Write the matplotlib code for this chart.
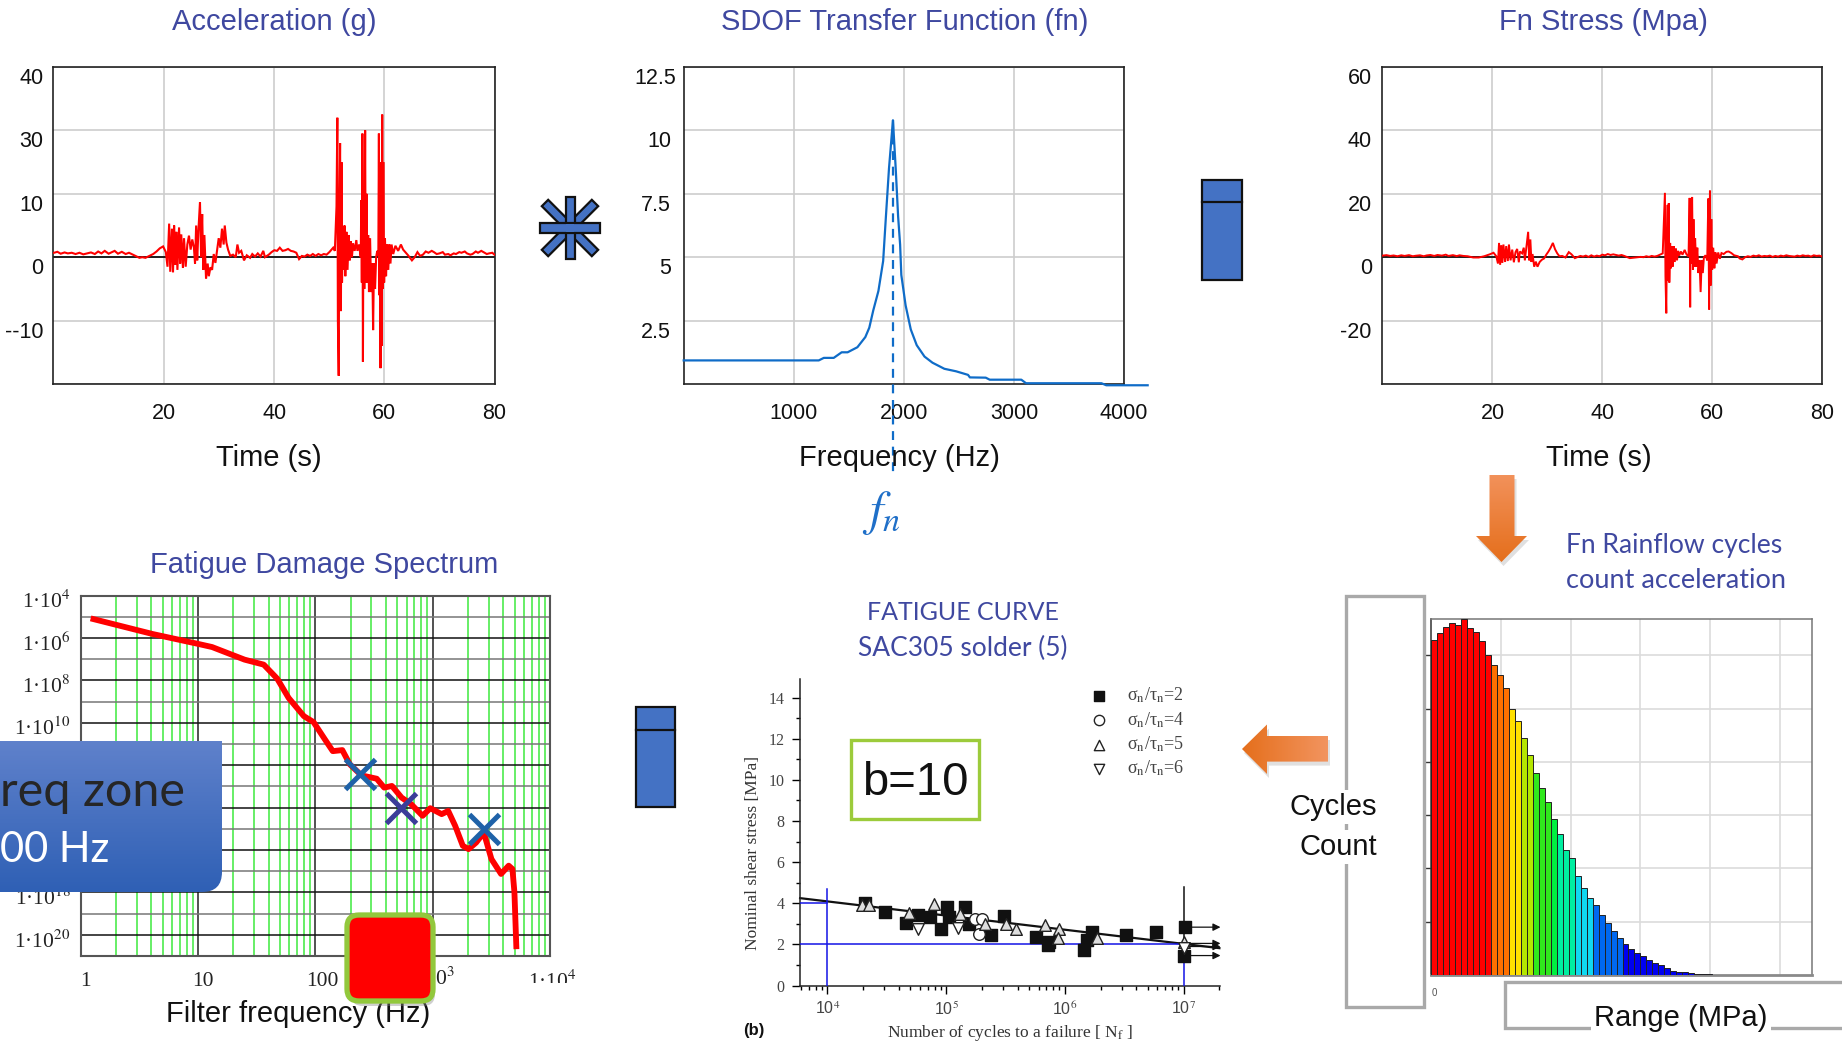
import numpy as np
import matplotlib
matplotlib.use("Agg")
import matplotlib.pyplot as plt
from matplotlib.path import Path
from matplotlib.patches import PathPatch, Rectangle, FancyBboxPatch, Polygon
from matplotlib.transforms import ScaledTranslation, Bbox
from matplotlib.colors import LinearSegmentedColormap

plt.rcParams['font.family'] = ['Liberation Sans', 'DejaVu Sans']
plt.rcParams['mathtext.fontset'] = 'stix'

W, H = 1842, 1043

# ---------- data: acceleration signal (time s, plotted level) ----------
acc_t = [0,0.6,1.2,1.9,2.5,3.2,3.9,4.6,5.3,6,6.7,7.4,8,8.6,9.2,9.9,10.5,11,11.6,12.3,13,13.6,14.2,15,15.5,16,16.6,17.2,18,18.6,19.2,19.8,20.3,
         20.6,20.9,21.1,21.4,21.6,21.8,22.0,22.2,22.4,22.7,22.9,23.1,23.4,23.6,23.9,24.2,24.5,24.8,25.1,25.4,25.6,25.8,26.0,26.2,26.5,26.7,26.9,27.1,27.3,27.6,27.9,28.1,28.4,28.7,29,29.3,29.6,29.9,30.2,30.5,30.8,31.0,31.3,31.6,32,32.5,33,33.3,33.6,34,34.5,35,35.6,36,36.5,37,37.5,38,38.3,39,39.5,40,40.5,41,41.5,42,42.5,43,43.5,44,44.5,45,45.5,46,46.5,47,47.5,48,48.5,49,49.5,50,50.7,
         51.0,51.3,51.45,51.55,51.7,51.8,51.95,52.1,52.2,52.3,52.45,52.6,52.75,52.9,53.1,53.3,53.5,53.7,53.9,54.1,54.3,54.6,54.9,55.1,55.4,55.7,55.8,55.9,56.0,56.1,56.2,56.35,56.5,56.6,56.75,56.9,57.05,57.2,57.4,57.6,57.8,57.95,58.1,58.3,58.5,58.7,58.9,59.0,59.1,59.2,59.3,59.4,59.5,59.6,59.7,59.8,59.95,60.1,60.3,60.5,60.7,60.9,61.1,61.3,61.6,62,62.5,63,63.4,63.8,64.3,65,65.5,66,66.5,67,67.5,68,68.6,69,69.5,70,70.6,71,71.6,72,72.6,73,73.6,74,74.6,75,75.6,76,76.6,77,77.6,78,78.6,79,79.6,80]
acc_y = [0.7,0.85,0.55,0.75,0.6,0.7,0.5,0.7,0.45,0.6,0.75,0.5,0.9,0.6,1.0,0.55,0.8,1.0,0.55,0.85,0.5,0.7,0.45,0.1,-0.1,0,-0.1,0.15,0.5,0.9,1.4,1.7,0.8,
         -1.5,5.3,-2.3,4.5,-2.4,5.0,-1.2,4.0,-2,4.7,-1,3.6,-1.7,3,-1.5,2,3.4,1.2,2.8,1.5,-1,5,-0.5,4,8.7,0,6.8,-2,3.5,-3.4,-1,-3,-1.6,-2,0.5,-0.9,1,3,1.5,4.5,2,5,2.3,1.2,0.2,0.4,0,2,0.7,1,-0.5,0.3,-0.1,0.5,0.1,0.6,0.1,1,0,0.4,0.8,1.1,1.0,1.5,1.0,1.1,1.3,1.0,0.9,0.7,-0.3,0.2,0.1,0.4,0.2,0.5,0.2,0.5,0.3,0.5,0.4,0.8,1.5,
         1.0,8,22,-10,-18.7,5,18,-8.5,15,-4,3,-2,5,-3,4,-2,3.5,-0.5,2.5,0,2.2,1,2.7,1,2,0,9,-4,19.5,-16.5,10,-5,20,-4,10,-4,3.5,-5.5,3,-5.5,-1,-11.5,-1,-5,0,1,0.3,19.5,-6,8,-17.5,15,-14,22.5,-5,15,-4,3,-3,2,-2,2,-1,2,0.5,1.8,1,2,1.2,0.8,0.3,-0.5,0,0.8,0.2,0.4,0.9,0.7,1.0,0.8,0.5,0.6,0.8,0.4,0.5,0.3,0.6,0.5,0.8,0.7,0.9,0.6,0.4,0.5,0.9,0.7,1.0,0.8,0.5,0.6,0.7,0.4]
acc_yticks = [-20,-10,0,10,20,30]
acc_ylabels = ['', '--10', '0', '10', '30', '40']
time_ticks = [20,40,60,80]

# ---------- data: SDOF transfer function ----------
sdof_f = [0,1227,1273,1363,1435,1489,1578,1650,1686,1722,1769,1812,1837,1865,1901,1926,1948,1966,1977,2016,2063,2117,2188,2260,2368,2475,2583,2600,2744,2780,3067,3110,3795,3839,4215]
sdof_h = [0.93,0.93,1.03,1.03,1.25,1.25,1.45,1.85,2.22,2.9,3.67,4.85,6.6,8.5,10.4,8.5,6.6,5.5,4.3,3.1,2.15,1.53,1.08,0.84,0.6,0.5,0.36,0.26,0.25,0.17,0.17,0.03,0.03,-0.05,-0.05]
sdof_fn = 1901
sdof_yticks = [2.5,5,7.5,10,12.5]
sdof_ylabels = ['2.5','5','7.5','10','12.5']
freq_ticks = [1000,2000,3000,4000]

# ---------- data: Fn stress ----------
st_t = [0,0.7,1.4,2,2.7,3.4,4,4.8,5.5,6,6.8,7.5,8,8.7,9.4,10,10.8,11.5,12,12.8,13.5,14,14.7,15.5,16.5,17.5,18.5,19.5,20.2,20.7,21,21.2,21.4,21.6,21.8,22,22.3,22.5,22.8,23,23.3,23.6,23.9,24.2,24.5,24.8,25,25.4,25.7,25.9,26.2,26.5,26.7,26.9,27.1,27.3,27.6,27.9,28.2,28.6,29,29.4,29.8,30.2,30.6,31,31.4,31.8,32.2,32.7,33.3,33.9,34.4,35,35.6,36,36.5,37,37.5,38,38.5,39,39.5,40,40.5,41,41.5,42,42.5,43,43.5,44,45,46,47,47.5,48,48.5,49,49.5,50,51,
        51.4,51.5,51.65,51.75,51.9,52.0,52.1,52.2,52.35,52.5,52.65,52.8,53,53.2,53.4,53.6,53.8,54,54.3,54.6,55,55.3,55.7,55.9,56,56.1,56.2,56.35,56.5,56.6,56.75,56.9,57.1,57.3,57.5,57.7,57.9,58.1,58.3,58.5,58.8,59.1,59.3,59.45,59.6,59.7,59.85,60,60.2,60.4,60.6,60.8,61.1,61.4,61.7,62.1,62.6,63,63.5,64,64.7,65,65.5,66,66.5,67,67.5,68,68.5,69,69.5,70,70.5,71,71.5,72,72.5,73,73.5,74,74.5,75,75.5,76,76.5,77,77.5,78,78.5,79,79.5,80]
st_y = [0.5,0.65,0.4,0.55,0.3,0.6,0.4,0.65,0.3,0.45,0.6,0.3,0.55,0.7,0.4,0.7,0.5,0.8,0.4,0.65,0.35,0.6,0.4,0.3,-0.1,-0.1,0.3,0.9,1.4,0.3,-2,4.5,-2.4,3.8,-1.8,4,-1.5,3.5,-1.2,4,-1,2.4,-1.6,1.6,2.6,-1.6,1.8,1.2,3,-1,3.6,8,-1,5.6,-1.5,1,-3,-1.4,-3,-1.5,-0.8,-0.4,0.8,1.8,3,4.5,2.5,1.2,0.3,0.4,-0.1,1.6,0.9,-0.3,0.1,0.4,0.2,0.5,0.1,0.6,0.2,0.5,0.3,0.8,0.6,1,0.7,0.9,0.7,0.5,0.7,0.4,-0.3,-0.1,0.1,0,0.3,0.1,0.4,0.2,0.4,1.2,
        20.3,-6,-17.7,2,16.5,-7.5,17,-8,4.5,-3.5,3.5,-3,3.5,-1.5,2.8,-1,2,0.5,1.8,0.8,2.3,1,0.2,18.7,-15.8,18,-2,19,-4,12,-3,6,-3,3,-5,-1,-11,-1,-5,0,0.6,-1,18.5,-16.5,21,-9,12,-4,3,-3.5,1.5,-2,1.5,-0.5,1.3,1,1.7,1.8,1.3,0.6,0.3,-0.4,-0.7,0,0.3,0.1,0.5,0.3,0.6,0.2,0.4,0.3,0.5,0.1,0.4,0.2,0.5,0.3,0.6,0.4,0.3,0.2,0.5,0.3,0.6,0.4,0.5,0.2,0.6,0.4,0.5,0.2]
st_yticks = [-40,-20,0,20,40,60]
st_ylabels = ['', '-20', '0', '20', '40', '60']

# ---------- data: fatigue damage spectrum ----------
fds_f = [1.29,4.13,9.87,13.2,25,36.4,47.4,59.3,80,96.7,121,141,170,197,247,334,387,450,544,656,821,955,1194,1358,1556,1807,2023,2349,2729,3170,3828,4446,4786,4977,5164]
fds_exp = [-5.113,-5.818,-6.273,-6.43,-7.025,-7.26,-7.92,-8.83,-9.69,-9.97,-10.79,-11.34,-11.29,-11.96,-12.48,-12.64,-13.06,-12.98,-13.53,-13.84,-14.39,-14.03,-14.31,-14.16,-14.86,-15.80,-15.96,-15.65,-15.18,-16.43,-17.13,-16.74,-16.90,-18.0,-20.54]
fds_dmg = [10.0**e for e in fds_exp]
cross_f = [242, 535, 2749]
cross_dmg = [10.0**-12.43, 10.0**-14.0, 10.0**-15.02]
cross_col = ['#1f62a8', '#3b3d99', '#1f62a8']
fds_label_exp = [4,6,8,10,12,14,16,18,20]

# ---------- data: S-N fatigue curve ----------
sq_n = [2.07e4,3.08e4,4.64e4,5.8e4,7.35e4,9.1e4,1.01e5,1.05e5,1.44e5,1.56e5,2.37e5,3.1e5,5.7e5,7.17e5,7.3e5,1.46e6,1.55e6,1.70e6,3.3e6,5.9e6,1.02e7,1.0e7]
sq_s = [4.03,3.57,3.04,3.44,3.33,2.76,3.81,3.33,3.81,3.0,2.47,3.36,2.35,1.95,2.14,1.74,2.22,2.6,2.48,2.6,2.84,1.46]
ci_n = [1.75e5,2.02e5,1.9e5]
ci_s = [3.25,3.25,2.52]
up_n = [1.95e4,2.24e4,4.87e4,7.9e4,1.31e5,2.14e5,3.18e5,3.87e5,6.84e5,8.87e5,8.67e5,1.88e6,1.0e7]
up_s = [3.94,3.93,3.54,3.98,3.49,3.0,3.0,2.73,2.95,2.73,2.32,2.32,2.11]
dn_n = [5.8e4,1.26e5,1.0e7]
dn_s = [2.76,2.79,1.82]
fit_n = [5.9e3, 2.0e7]
fit_s = [4.25, 1.82]
runout_s = [2.84, 2.05, 1.9, 1.46]

# ---------- data: rainflow histogram ----------
rf_counts = [6.29,6.42,6.53,6.60,6.56,6.68,6.51,6.43,6.26,6.01,5.82,5.62,5.39,4.99,4.76,4.44,4.12,3.79,3.51,3.25,2.92,2.65,2.34,2.20,1.86,1.64,1.44,1.31,1.12,0.97,0.82,0.69,0.58,0.48,0.41,0.35,0.29,0.23,0.18,0.13,0.08,0.065,0.05,0.04,0.026,0.02,0.013,0.006,0.006]
rf_colors = ['#ff0000']*10 + ['#ff7000']*3 + ['#ffe000']*2 + ['#b4e600']*2 + ['#30e81c']*3 + \
            ['#00f040'] + ['#00eea0']*3 + ['#10d8f0']*3 + ['#0068f0']*5 + ['#0000f0']*17
rf_bin = 0.0857

TITLE = '#3f48a0'
fig = plt.figure(figsize=(W/100, H/100), dpi=100, facecolor='white')


def px_axes(l, t, r, b, **kw):
    return fig.add_axes([l/W, 1-b/H, (r-l)/W, (b-t)/H], **kw)


def shift(label, dx=0, dy=0):
    label.set_transform(label.get_transform() + ScaledTranslation(dx/100, -dy/100, fig.dpi_scale_trans))


def base_panel(ax, xticks, yticks, ylabels, ypad=7):
    ax.set_xticks(xticks)
    ax.set_yticks(yticks)
    ax.set_yticklabels(ylabels)
    ax.grid(True, color='#cdcdcd', lw=1.2)
    ax.set_axisbelow(True)
    ax.tick_params(axis='both', which='both', length=0, labelsize=15.5, labelcolor='#111111')
    ax.tick_params(axis='x', pad=14)
    ax.tick_params(axis='y', pad=ypad)
    for lb in ax.get_yticklabels():
        shift(lb, dy=9)
    for s in ax.spines.values():
        s.set_color('#222222')
        s.set_linewidth(1.2)


# panel 1
ax1 = px_axes(53, 67, 494.5, 384)
ax1.set_xlim(-0.2, 80); ax1.set_ylim(-20, 30)
base_panel(ax1, time_ticks, acc_yticks, acc_ylabels)
ax1.axhline(0, color='black', lw=1.2, zorder=2)
ax1.plot(acc_t, acc_y, color='#ff0000', lw=1.5, zorder=3, solid_joinstyle='miter')

# panel 2
ax2 = px_axes(683.7, 67, 1124, 384)
ax2.set_xlim(0, 4000); ax2.set_ylim(0, 12.5)
base_panel(ax2, freq_ticks, sdof_yticks, sdof_ylabels, ypad=9)
shift(ax2.get_yticklabels()[-1], dx=5)
ax2.plot(sdof_f, sdof_h, color='#0f6cc8', lw=1.6, clip_on=False, zorder=3)
ax2.plot([sdof_fn, sdof_fn], [max(sdof_h), -3.63], color='#0f6cc8', lw=1.6, ls=(0, (4, 3)), clip_on=False, zorder=4)

# panel 3
ax3 = px_axes(1381.5, 67, 1822, 384)
ax3.set_xlim(-0.2, 80); ax3.set_ylim(-40, 60)
base_panel(ax3, time_ticks, st_yticks, st_ylabels)
ax3.axhline(0, color='black', lw=1.2, zorder=2)
ax3.plot(st_t, st_y, color='#ff0000', lw=1.4, zorder=3, solid_joinstyle='miter')

# panel 4: fatigue damage spectrum
ax4 = px_axes(80.5, 595.5, 550, 956)
ax4.set_xscale('log'); ax4.set_yscale('log')
ax4.set_xlim(1, 1e4); ax4.set_ylim(1e-21, 1e-4)
for d in [1, 10, 100, 1000]:
    for m in range(2, 10):
        ax4.axvline(d*m, color='#66ee66', lw=1.4, zorder=1)
for d in [10, 100, 1000]:
    ax4.axvline(d, color='#333333', lw=1.2, zorder=2)
for e in range(-20, -4):
    ax4.axhline(10.0**e, color='#111111' if e % 2 == 0 else '#777777', lw=1.1, zorder=2)
ax4.set_xticks([]); ax4.set_xticks([], minor=True)
ax4.set_yticks([10.0**-e for e in fds_label_exp])
ax4.set_yticklabels(['1·10$^{%d}$' % e for e in fds_label_exp], family='Liberation Serif', fontsize=15.5, color='#222222')
ax4.set_yticks([], minor=True)
ax4.tick_params(axis='y', which='both', length=0, pad=7)
for lb in ax4.get_yticklabels():
    shift(lb, dy=4)
for s in ax4.spines.values():
    s.set_color('#555555'); s.set_linewidth(1.5)
ax4.plot(fds_f, fds_dmg, color='#ff0000', lw=4.2, zorder=5, solid_joinstyle='round')
for f, d, c in zip(cross_f, cross_dmg, cross_col):
    ax4.plot([f], [d], marker='x', ms=21, mew=3.6, color=c, zorder=6)

# panel 5: S-N curve
ax5 = px_axes(800, 679, 1220, 985.6)
ax5.set_xscale('log')
ax5.set_xlim(10**3.77, 10**7.306); ax5.set_ylim(0, 14.9)
for s in ['top', 'right']:
    ax5.spines[s].set_visible(False)
for s in ['left', 'bottom']:
    ax5.spines[s].set_color('#222222'); ax5.spines[s].set_linewidth(1.1)
ax5.set_yticks(range(0, 15, 2)); ax5.set_yticks(range(1, 15, 2), minor=True)
ax5.set_xticks([1e4, 1e5, 1e6, 1e7])
ax5.set_xticklabels(['10$^{4}$', '10$^{5}$', '10$^{6}$', '10$^{7}$'])
ax5.tick_params(axis='both', which='major', length=6, width=1, labelsize=11.5, labelcolor='#444444', pad=5)
ax5.tick_params(axis='both', which='minor', length=3, width=1)
for lb in ax5.get_yticklabels():
    lb.set_family('Liberation Serif')
ax5.plot(fit_n, fit_s, color='#111111', lw=1.6, zorder=2, clip_on=False)
blue = '#1414e6'
ax5.plot([1e4, 1e4], [0, 4.7], color=blue, lw=1.1, zorder=3)
ax5.plot([10**3.77, 1e4], [4, 4], color=blue, lw=1.1, zorder=3)
ax5.plot([10**3.77, 1e7], [2, 2], color=blue, lw=1.1, zorder=3)
ax5.plot([1e7, 1e7], [0, 2], color=blue, lw=1.1, zorder=3)
ax5.plot([1e7, 1e7], [2, 4.8], color='#111111', lw=1.1, zorder=3)
for s in runout_s:
    ax5.annotate('', xy=(10**7.31, s), xytext=(1e7, s),
                 arrowprops=dict(arrowstyle='-|>', color='#111111', lw=0.9, mutation_scale=11, shrinkA=0, shrinkB=0),
                 annotation_clip=False)
h1 = ax5.scatter(sq_n, sq_s, marker='s', s=70, color='#111111', zorder=4, label='σ$_{\\mathrm{n}}$/τ$_{\\mathrm{n}}$=2')
h2 = ax5.scatter(ci_n, ci_s, marker='o', s=70, facecolor='white', edgecolor='#222222', lw=1, zorder=5, label='σ$_{\\mathrm{n}}$/τ$_{\\mathrm{n}}$=4')
h3 = ax5.scatter(up_n, up_s, marker='^', s=70, facecolor='#dddddd', edgecolor='#222222', lw=1, zorder=5, label='σ$_{\\mathrm{n}}$/τ$_{\\mathrm{n}}$=5')
h4 = ax5.scatter(dn_n, dn_s, marker='v', s=70, facecolor='white', edgecolor='#222222', lw=1, zorder=5, label='σ$_{\\mathrm{n}}$/τ$_{\\mathrm{n}}$=6')
lg = ax5.legend(handles=[h1, h2, h3, h4], loc='upper right', bbox_to_anchor=(0.925, 0.99), frameon=False,
                prop={'family': 'Liberation Serif', 'size': 13}, labelspacing=0.28, handletextpad=0.55,
                borderpad=0.2, borderaxespad=0)
for t in lg.get_texts():
    t.set_color('#444444')
for h in lg.legend_handles:
    h.set_facecolor('white' if h is not lg.legend_handles[0] else '#111111')
    h.set_sizes([55])
ax5.set_xlabel('Number of cycles to a failure [ N$_{\\mathrm{f}}$ ]', family='Liberation Serif', fontsize=12.5, color='#333333', labelpad=3)
ax5.set_ylabel('Nominal shear stress [MPa]', family='Liberation Serif', fontsize=12.5, color='#333333')
ax5.yaxis.set_label_coords(-0.092, 0.433)

# panel 6: rainflow histogram
ax6 = px_axes(1431, 619, 1812, 975)
ax6.set_xlim(0, 5.456); ax6.set_ylim(0, 6.68)
ax6.grid(True, color='#dcdcdc', lw=1.2)
ax6.set_axisbelow(True)
ax6.set_xticks([1, 2, 3, 4, 5]); ax6.set_yticks([1, 2, 3, 4, 5, 6])
ax6.set_xticklabels([]); ax6.set_yticklabels([])
ax6.tick_params(axis='y', length=6, color='#333333', width=1)
ax6.tick_params(axis='x', length=0)
edges = np.arange(len(rf_counts)) * rf_bin
ax6.bar(edges, rf_counts, width=rf_bin, align='edge', color=rf_colors, edgecolor='#222222', linewidth=0.7, zorder=3)
for s in ax6.spines.values():
    s.set_color('#777777'); s.set_linewidth(1.1)
ax6.spines['bottom'].set_color('#8a8a8a'); ax6.spines['bottom'].set_linewidth(2)
ax6.spines['left'].set_color('#333333')

# ---------- overlay in pixel coordinates ----------
ov = fig.add_axes([0, 0, 1, 1], zorder=50)
ov.set_xlim(0, W); ov.set_ylim(H, 0)
ov.axis('off')
ov.patch.set_alpha(0)


def gradient(path, c1, c2, vertical=True, z=3):
    verts = path.vertices
    x0, x1 = verts[:, 0].min(), verts[:, 0].max()
    y0, y1 = verts[:, 1].min(), verts[:, 1].max()
    g = np.linspace(0, 1, 64)
    g = g[:, None] if vertical else g[None, :]
    cmap = LinearSegmentedColormap.from_list('g', [c1, c2])
    im = ov.imshow(g, cmap=cmap, extent=(x0, x1, y1, y0), origin='upper', aspect='auto', zorder=z, vmin=0, vmax=1)
    patch = PathPatch(path, transform=ov.transData, fc='none', ec='none')
    ov.add_patch(patch)
    im.set_clip_path(patch)


def poly_path(pts):
    return Path(list(pts) + [pts[0]], [Path.MOVETO] + [Path.LINETO]*(len(pts)-1) + [Path.CLOSEPOLY])


def label(x, y, s, size=21, color='#111111', ha='center', family='Liberation Sans', bg=False, z=10, **kw):
    t = ov.text(x, y, s, fontsize=size, color=color, ha=ha, va='center', family=family, zorder=z, **kw)
    if bg:
        t.set_bbox(dict(fc='white', ec='none', pad=2))
    return t


# titles and axis names
label(274, 22, 'Acceleration (g)', color=TITLE)
label(904.5, 22, 'SDOF Transfer Function (fn)', color=TITLE)
label(1603.5, 22, 'Fn Stress (Mpa)', color=TITLE)
label(324, 565, 'Fatigue Damage Spectrum', color=TITLE)
label(269, 458, 'Time (s)')
label(899, 458, 'Frequency (Hz)')
label(1599, 458, 'Time (s)')
label(881, 513, '$f_n$', size=35, color='#1f6fc8')
label(298, 1014, 'Filter frequency (Hz)', z=2)
label(963, 613, 'FATIGUE CURVE', size=18, color=TITLE, family='Lato')
label(963, 648, 'SAC305 solder (5)', size=19, color=TITLE, family='Lato')
label(1566, 546, 'Fn Rainflow cycles', size=19.1, color=TITLE, family='Lato', ha='left')
label(1566, 581, 'count acceleration', size=19.5, color=TITLE, family='Lato', ha='left')
label(754, 1031, '(b)', size=12, weight='bold')

# FDS x labels
for x, s in [(85, '1'), (203, '10'), (322, '100')]:
    label(x, 982, s, size=15.5, family='Liberation Serif', color='#222222', z=2)
label(431, 979, '1·10$^{3}$', size=15.5, family='Liberation Serif', color='#222222', z=2)
t4 = label(552, 982, '1·10$^{4}$', size=15.5, family='Liberation Serif', color='#222222', z=2)
t4.set_clip_on(True)
t4.set_clip_box(Bbox([[500, H-983], [600, H-950]]))

# asterisk
cx, cy = 570, 228
for dx, dy in [(25, 25), (25, -25)]:
    nx, ny = -dy/35.4*4.5, dx/35.4*4.5
    ov.add_patch(Polygon([(cx-dx+nx, cy-dy+ny), (cx+dx+nx, cy+dy+ny), (cx+dx-nx, cy+dy-ny), (cx-dx-nx, cy-dy-ny)],
                         fc='#4472c4', ec='#111111', lw=1.6, zorder=3))
ov.add_patch(Rectangle((cx-4.5, cy-31), 9, 62, fc='#4472c4', ec='#111111', lw=1.6, zorder=3))
ov.add_patch(Rectangle((cx-30, cy-4.8), 60, 9.6, fc='#4472c4', ec='#111111', lw=1.6, zorder=3))
ov.add_patch(Rectangle((cx-3.6, cy-3.8), 7.2, 7.6, fc='#4472c4', ec='none', zorder=3.1))

# equals-like blocks
for l, t, r, b, m in [(1202, 180, 1241.5, 280, 202), (635.5, 707, 674.7, 807, 729.5)]:
    ov.add_patch(Rectangle((l, t), r-l, b-t, fc='#4472c4', ec='#111111', lw=1.6, zorder=3))
    ov.plot([l, r], [m, m], color='#111111', lw=1.6, zorder=4)

# orange arrows
down = [(1489.5, 475), (1514.5, 475), (1514.5, 536), (1527, 536), (1501.5, 562), (1476, 536), (1489.5, 536)]
left = [(1242, 749), (1267, 724.5), (1267, 736), (1328, 736), (1328, 761.6), (1267, 761.6), (1267, 774)]
ov.add_patch(Polygon([(x+2, y+4) for x, y in down], fc='#999999', ec='none', alpha=0.3, zorder=2))
ov.add_patch(Polygon([(x+2, y+4) for x, y in left], fc='#999999', ec='none', alpha=0.3, zorder=2))
gradient(poly_path(down), '#f2915a', '#e56f1c', vertical=True)
gradient(poly_path(left), '#e56f1c', '#f2945f', vertical=False)

# b=10 box
ov.add_patch(Rectangle((850.6, 740), 128.4, 79, fc='white', ec='#9ccb3b', lw=2.4, zorder=3))
label(915, 783, 'b=10', size=34)

# grey open boxes with labels
ov.add_patch(Rectangle((1346, 596), 77.5, 411, fc='none', ec='#a9a9a9', lw=2.4, zorder=3))
ov.add_patch(Rectangle((1505, 982), 400, 46, fc='white', ec='#a9a9a9', lw=2.4, zorder=3))
label(1377, 807, 'Cycles', ha='right', bg=True)
label(1377, 847, 'Count', ha='right', bg=True)
label(1681, 1018, 'Range (MPa)', bg=True)
label(1434, 993, '0', size=7, color='#555555')

# frequency zone box
zone = Path([(-10, 741), (222, 741), (222, 872), (222, 892), (202, 892), (-10, 892), (-10, 741)],
            [Path.MOVETO, Path.LINETO, Path.LINETO, Path.CURVE3, Path.CURVE3, Path.LINETO, Path.CLOSEPOLY])
gradient(zone, '#5f81cb', '#2f60b5', vertical=True, z=6)
label(0, 792, 'req zone', size=35, color='#262626', ha='left', family='Lato', z=7)
label(0, 850, '00 Hz', size=30, color='white', ha='left', family='Lato', z=7)

# red square
ov.add_patch(FancyBboxPatch((351, 921), 84, 85, boxstyle='round,pad=0,rounding_size=12', fc='#888888', ec='none', alpha=0.4, zorder=6))
ov.add_patch(FancyBboxPatch((347, 915), 86, 86, boxstyle='round,pad=0,rounding_size=12', fc='#ff0000', ec='#92c83c', lw=3.8, zorder=7))

ov.set_xlim(0, W); ov.set_ylim(H, 0)
fig.savefig('out.png', dpi=100)
